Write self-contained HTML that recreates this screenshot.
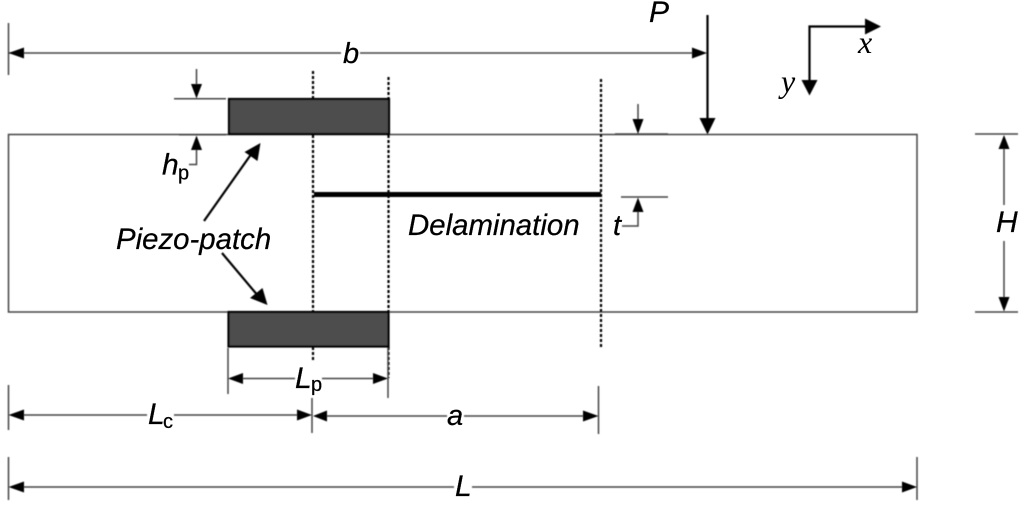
<!DOCTYPE html>
<html><head><meta charset="utf-8">
<style>
html,body{margin:0;padding:0;background:#fff;width:1024px;height:506px;overflow:hidden}
svg{display:block}
text{font-family:"Liberation Sans",sans-serif;font-style:italic;fill:#000;stroke:#000;stroke-width:.25}
.s{font-style:normal;font-size:20px}
.t{font-family:"Liberation Serif",serif;font-size:32px;stroke-width:0}
</style></head>
<body>
<svg width="1024" height="506" viewBox="0 0 1024 506" xmlns="http://www.w3.org/2000/svg">
<defs><filter id="b" x="-2%" y="-2%" width="104%" height="104%"><feGaussianBlur stdDeviation="0.4"/></filter></defs>
<g filter="url(#b)">
<!-- beam -->
<rect x="8.5" y="134.5" width="908.5" height="177.5" fill="none" stroke="#444" stroke-width="1.5"/>
<!-- patches -->
<rect x="229" y="99" width="160" height="35" fill="#4d4d4d" stroke="#000" stroke-width="2.2"/>
<rect x="228.5" y="312" width="160" height="34.5" fill="#4d4d4d" stroke="#000" stroke-width="2.2"/>
<!-- dashed -->
<g stroke="#000" stroke-width="2.2" stroke-dasharray="3 2" fill="none">
<path d="M313 71V98M313 135V311M313 347V360"/>
<path d="M388.5 77V98M388.5 135V311M388.5 347V378"/>
<path d="M601 79V348"/>
</g>
<!-- delamination -->
<path d="M314 194.500H601" stroke="#000" stroke-width="5"/>
<!-- thin lines -->
<g stroke="#444" stroke-width="1.500" fill="none">
<path d="M8.500 23V75M8.500 53H341M360 53H700"/>
<path d="M196.500 69V86M174 98.700H226M179 134.700H226M196.500 148V164.500H189"/>
<path d="M638 104V120M615 134H668M621 197H668M638 212V226H622"/>
<path d="M975 134H1018M975 312H1018M1004 148V205M1004 241V298"/>
<path d="M228 348V394M388 348V398M240 378.500H295M322 378.500H376"/>
<path d="M8.500 385V430M312 398V433M20 415H147M174 415H300"/>
<path d="M325 416H447M464 416H587M598.500 386V434"/>
<path d="M8.500 457V500M917 457V500M20 487H454M472 487H905"/>
</g>
<!-- thin arrowheads -->
<g fill="#000">
<path d="M8.500 53L24 47.500V58.500Z"/><path d="M707 53L692 47.500V58.500Z"/>
<path d="M196.500 98.500L191 84H202Z"/><path d="M196.500 135.500L191 150H202Z"/>
<path d="M638 134L632.500 119H643.500Z"/><path d="M638 197.500L632.500 212H643.500Z"/>
<path d="M1004 135L998.500 149H1009.500Z"/><path d="M1004 311.500L998.500 297H1009.500Z"/>
<path d="M228 378.500L243 373V384Z"/><path d="M388 378.500L373 373V384Z"/>
<path d="M8.500 415L24 409.500V420.500Z"/><path d="M312 415L297 409.500V420.500Z"/>
<path d="M313 416L327 410.500V421.500Z"/><path d="M598.500 416L583 410.500V421.500Z"/>
<path d="M8.500 487L24 481.500V492.500Z"/><path d="M917 487L902 481.500V492.500Z"/>
</g>
<!-- bold arrows -->
<g stroke="#000" stroke-width="2.200" fill="none">
<path d="M707.500 15V120"/>
<path d="M870 26.500H809.500V85"/>
<path d="M204 221L252 153"/>
<path d="M222 253L259 297"/>
</g>
<g fill="#000">
<path d="M707.500 134.500L699.500 118H715.500Z"/>
<path d="M881 26.500L865 18.500V34.500Z"/>
<path d="M809.500 95.500L801.500 80H817.500Z"/>
<path d="M260.500 143L257.500 161L244.500 152Z"/>
<path d="M267.500 305L250 298L262.500 288Z"/>
</g>
</g>
<!-- labels -->
<text x="343" y="63" font-size="29">b</text>
<text x="649" y="22" font-size="30">P</text>
<text x="858" y="53" class="t">x</text>
<text x="781" y="92" class="t">y</text>
<text x="162" y="174.500" font-size="30">h</text><text x="178" y="179.500" class="s">p</text>
<text x="116" y="249" font-size="29.400">Piezo-patch</text>
<text x="408" y="235" font-size="29.400">Delamination</text>
<text x="613" y="235" font-size="29">t</text>
<text x="996" y="232" font-size="30">H</text>
<text x="295" y="388" font-size="30">L</text><text x="311" y="391" class="s">p</text>
<text x="148" y="424" font-size="30">L</text><text x="163" y="428" class="s">c</text>
<text x="447" y="425" font-size="29">a</text>
<text x="455" y="496" font-size="30">L</text>
</svg>
</body></html>
